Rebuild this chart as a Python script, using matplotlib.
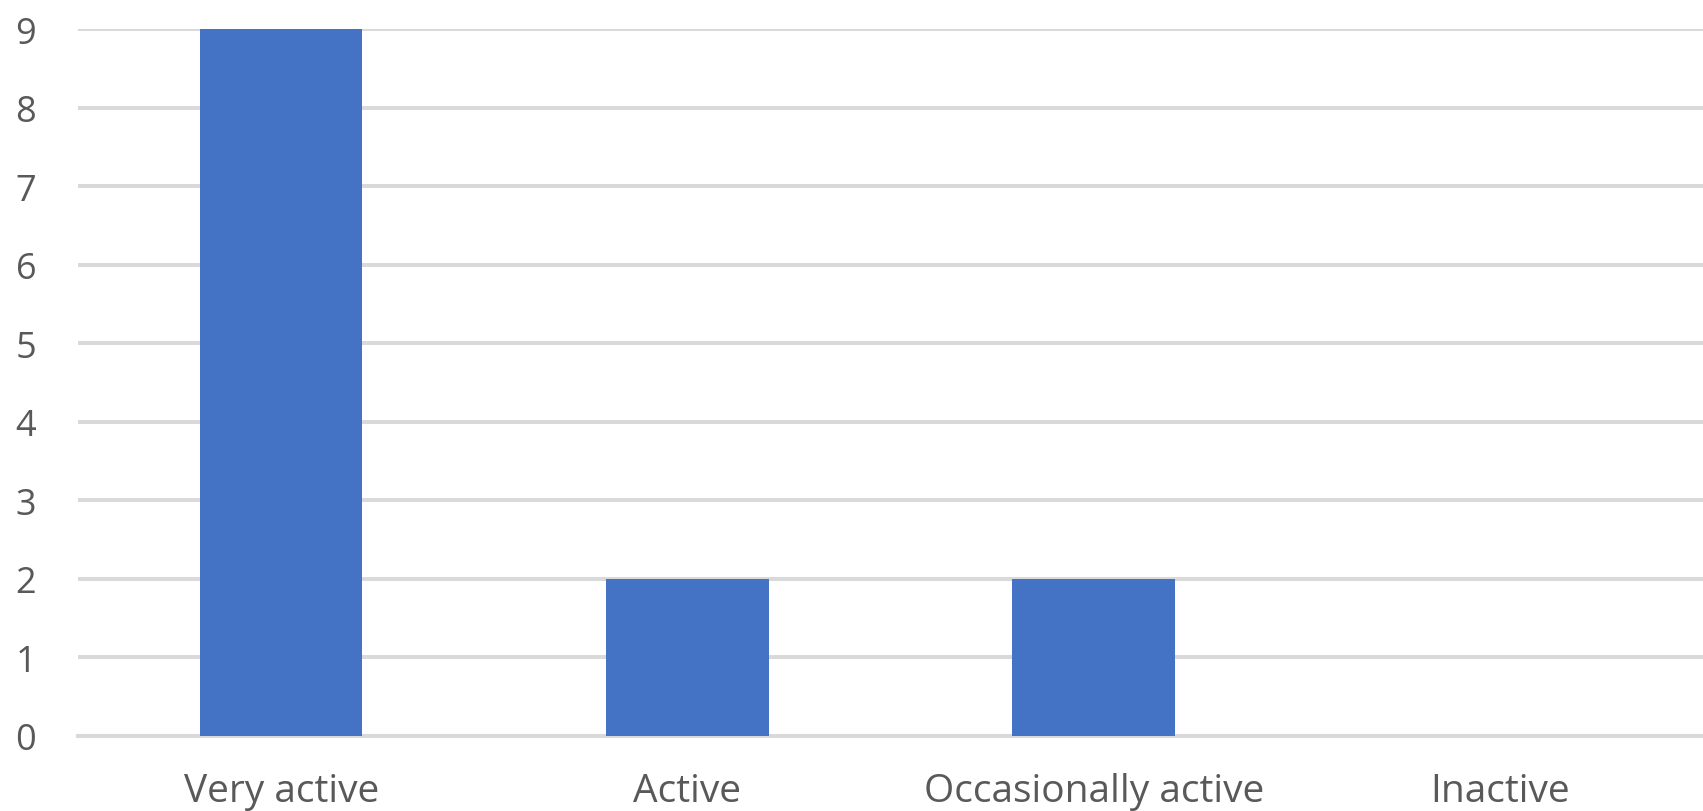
import matplotlib
matplotlib.use("Agg")
import matplotlib.pyplot as plt
import numpy as np

# data
categories = ["Very active", "Active", "Occasionally active", "Inactive"]
counts = [9, 2, 2, 0]
y_ticks = list(range(0, 10))

BAR_COLOR = "#4472C4"
GRID_COLOR = "#D9D9D9"
TEXT_COLOR = "#595959"

plt.rcParams["font.family"] = ["Open Sans", "DejaVu Sans"]

fig = plt.figure(figsize=(17.03, 8.12), dpi=100)
ax = fig.add_axes([78 / 1703, 1 - 737 / 812, 1 - 78 / 1703, (737 - 30) / 812])

x = np.arange(len(categories))
ax.bar(x, counts, width=0.4, color=BAR_COLOR, zorder=3)

ax.set_xlim(-0.5, len(categories) - 0.5)
ax.set_ylim(0, 9)
ax.set_yticks(y_ticks)
ax.set_xticks(x)
ax.set_xticklabels(categories)

# 横向网格线 + 0 轴线
ax.yaxis.grid(True, color=GRID_COLOR, linewidth=2.9, zorder=0)
ax.set_axisbelow(True)
ax.tick_params(axis="both", length=0, colors=TEXT_COLOR)
ax.tick_params(axis="y", pad=30, labelsize=26)
ax.tick_params(axis="x", pad=26, labelsize=28)
for side in ["top", "right", "left", "bottom"]:
    ax.spines[side].set_visible(False)
ax.axhline(0, color=GRID_COLOR, linewidth=2.9, zorder=1, clip_on=False)

fig.savefig("out.png", dpi=100)
